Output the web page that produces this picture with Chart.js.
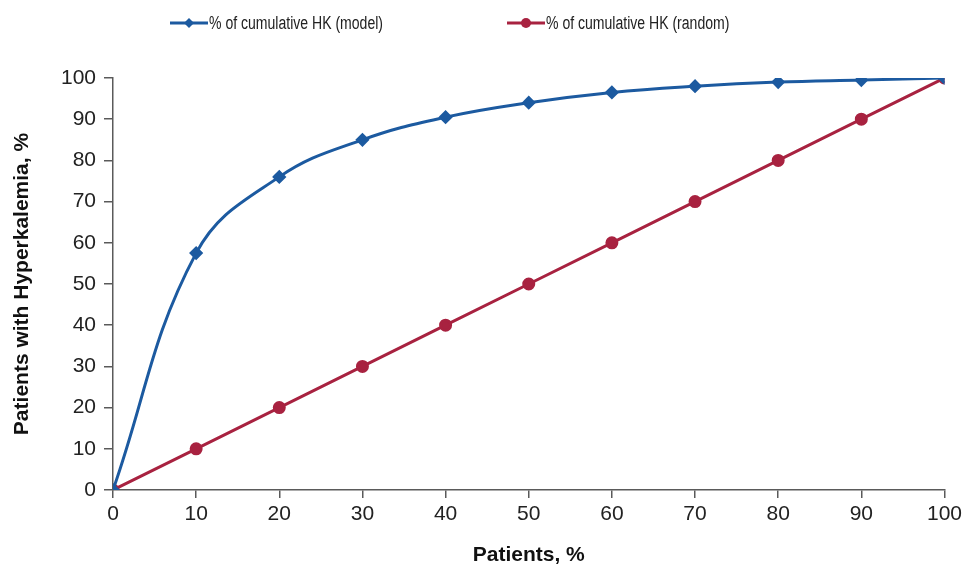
<!DOCTYPE html>
<html>
<head>
<meta charset="utf-8">
<script src="https://cdn.jsdelivr.net/npm/chart.js@4/dist/chart.umd.min.js"></script>
<style>
  body { margin: 0; background: #fff; }
  #wrap { position: relative; width: 966px; height: 568px; }
  .legend { position: absolute; top: 10px; left: 0; width: 966px; height: 26px; font: 18px "Liberation Sans", Arial, sans-serif; color: #222; }
  .item { position: absolute; top: 0; display: flex; align-items: center; height: 26px; white-space: nowrap; }
  .item canvas { margin-right: 1px; }
  .item span { display: inline-block; transform: scaleX(0.78); transform-origin: left center; }
</style>
</head>
<body>
<div id="wrap">
  <canvas id="myChart" width="966" height="568"></canvas>
  <div class="legend">
    <div class="item" style="left:170px"><canvas id="lg1" width="38" height="12"></canvas><span id="t1"></span></div>
    <div class="item" style="left:507px"><canvas id="lg2" width="38" height="12"></canvas><span id="t2"></span></div>
  </div>
</div>
<script>
let patients = [0, 10, 20, 30, 40, 50, 60, 70, 80, 90, 100]
let modelHK = [0, 57.5, 76, 85, 90.5, 94, 96.5, 98, 99, 99.5, 100]
let randomHK = [0, 10, 20, 30, 40, 50, 60, 70, 80, 90, 100]
let seriesNames = ['% of cumulative HK (model)', '% of cumulative HK (random)']
let xTitle = 'Patients, %'
let yTitle = 'Patients with Hyperkalemia, %'

let blue = '#1C5AA0'
let red = '#A82240'
let axisCol = '#5a5a5a'
let font = '"Liberation Sans", Arial, sans-serif'

// legend swatches: line with marker in the middle
function swatch(id, color, style){
  let c = document.getElementById(id).getContext('2d')
  c.strokeStyle = color
  c.fillStyle = color
  c.lineWidth = 3
  c.beginPath(); c.moveTo(0, 6); c.lineTo(38, 6); c.stroke()
  c.beginPath()
  if(style == 'diamond'){
    c.moveTo(19, 1); c.lineTo(24, 6); c.lineTo(19, 11); c.lineTo(14, 6)
  } else {
    c.arc(19, 6, 5, 0, Math.PI*2)
  }
  c.closePath(); c.fill()
}
swatch('lg1', blue, 'diamond')
swatch('lg2', red, 'circle')
document.getElementById('t1').textContent = seriesNames[0]
document.getElementById('t2').textContent = seriesNames[1]

let ctx = document.getElementById('myChart').getContext('2d')
new Chart(ctx, {
  type: 'line',
  data: {
    datasets: [
      {
        label: seriesNames[0],
        data: patients.map((p, i) => ({x: p, y: modelHK[i]})),
        borderColor: blue,
        backgroundColor: blue,
        borderWidth: 3,
        pointStyle: 'rectRot',
        pointRadius: 5,
        tension: 0.4
      },
      {
        label: seriesNames[1],
        data: patients.map((p, i) => ({x: p, y: randomHK[i]})),
        borderColor: red,
        backgroundColor: red,
        borderWidth: 3,
        pointStyle: 'circle',
        pointRadius: 5,
        tension: 0
      }
    ]
  },
  options: {
    responsive: false,
    devicePixelRatio: 1,
    animation: false,
    layout: { padding: { top: 78, right: 20, left: 0, bottom: 0 } },
    plugins: { legend: { display: false }, tooltip: { enabled: false } },
    scales: {
      x: {
        type: 'linear',
        min: 0, max: 100,
        ticks: { stepSize: 10, color: '#222', font: { family: font, size: 21 }, padding: 4 },
        grid: { drawOnChartArea: false, tickLength: 8, color: axisCol, lineWidth: 1.5 },
        border: { color: axisCol, width: 1.5 },
        title: { display: true, text: xTitle, color: '#111', font: { family: font, size: 21, weight: 'bold' }, padding: { top: 4, bottom: 0 } },
        afterFit: s => { s.height = 78 }
      },
      y: {
        min: 0, max: 100,
        ticks: { stepSize: 10, color: '#222', font: { family: font, size: 21 }, padding: 8 },
        grid: { drawOnChartArea: false, tickLength: 9, color: axisCol, lineWidth: 1.5 },
        border: { color: axisCol, width: 1.5 },
        title: { display: true, text: yTitle, color: '#111', font: { family: font, size: 21, weight: 'bold' }, padding: { top: 10, bottom: 4 } },
        afterFit: s => { s.width = 113 }
      }
    }
  }
})
</script>
</body>
</html>
